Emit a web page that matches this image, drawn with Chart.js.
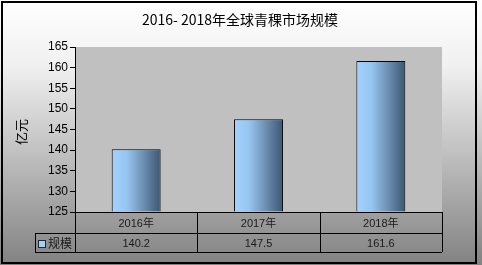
<!DOCTYPE html>
<html>
<head>
<meta charset="utf-8">
<script src="https://cdn.jsdelivr.net/npm/chart.js@4/dist/chart.umd.min.js"></script>
<style>
  html, body { margin: 0; padding: 0; background: #fff; }
  #wrap { width: 482px; height: 265px; }
</style>
</head>
<body>
<div id="wrap"><canvas id="marketChart"></canvas></div>
<script>
// data
const categories = ["2016年", "2017年", "2018年"];
const seriesName = "规模";
const values = [140.2, 147.5, 161.6];
const yMin = 125;
const yMax = 165;
const yStep = 5;
const chartTitle = "2016- 2018年全球青稞市场规模";
const yTitle = "亿元";

const cjkFont = '"Noto Sans CJK SC", "Liberation Sans", sans-serif';
const tableFont = '"Liberation Sans", "Noto Sans CJK SC", sans-serif';

// background, frame, title, y title and data table
const decorPlugin = {
    id: "decor",
    beforeDraw(chart) {
        const ctx = chart.ctx;
        const a = chart.chartArea;
        const W = chart.width, H = chart.height;
        ctx.save();
        const bg = ctx.createLinearGradient(0, 0, 0, H);
        bg.addColorStop(0, "#ffffff");
        bg.addColorStop(0.25, "#f0f0f0");
        bg.addColorStop(1, "#828282");
        ctx.fillStyle = bg;
        ctx.fillRect(0, 0, W, H);
        ctx.fillStyle = "#c0c0c0";
        ctx.fillRect(a.left, a.top, a.right - a.left, a.bottom - a.top);
        ctx.restore();
    },
    afterDraw(chart) {
        const ctx = chart.ctx;
        const a = chart.chartArea;
        const xs = chart.scales.x;
        const n = categories.length;
        const cw = (a.right - a.left) / n;
        const row1 = a.bottom, row2 = a.bottom + 21, row3 = a.bottom + 40;
        const legendLeft = 35;
        ctx.save();

        // title
        ctx.fillStyle = "#000";
        ctx.font = "14px " + cjkFont;
        ctx.textAlign = "center";
        ctx.textBaseline = "middle";
        ctx.fillText(chartTitle, 240, 20);

        // y axis title
        ctx.save();
        ctx.translate(21, 132);
        ctx.rotate(-Math.PI / 2);
        ctx.font = "13px " + cjkFont;
        ctx.fillText(yTitle, 0, 0);
        ctx.restore();

        // table lines
        ctx.strokeStyle = "#000";
        ctx.lineWidth = 1;
        ctx.beginPath();
        ctx.moveTo(a.left, row1 + 0.5); ctx.lineTo(a.right, row1 + 0.5);
        ctx.moveTo(legendLeft, row2 + 0.5); ctx.lineTo(a.right, row2 + 0.5);
        ctx.moveTo(legendLeft, row3 + 0.5); ctx.lineTo(a.right, row3 + 0.5);
        ctx.moveTo(legendLeft + 0.5, row2); ctx.lineTo(legendLeft + 0.5, row3);
        for (let i = 0; i <= n; i++) {
            const x = Math.round(a.left + cw * i) + 0.5;
            ctx.moveTo(x, row1); ctx.lineTo(x, row3);
        }
        ctx.stroke();

        // table text
        ctx.font = "11px " + tableFont;
        ctx.fillStyle = "#1a1a1a";
        categories.forEach((c, i) => {
            const x = xs.getPixelForValue(i);
            ctx.fillText(c, x, (row1 + row2) / 2 + 1);
            ctx.fillText(values[i].toFixed(1), x, (row2 + row3) / 2 + 1);
        });

        // legend key
        ctx.fillStyle = "#a6cff5";
        ctx.fillRect(38, row2 + 7, 7, 7);
        ctx.strokeStyle = "#1a2a3a";
        ctx.strokeRect(38.5, row2 + 7.5, 7, 7);
        ctx.fillStyle = "#1a1a1a";
        ctx.textAlign = "left";
        ctx.font = "12px " + cjkFont;
        ctx.fillText(seriesName, 48, (row2 + row3) / 2 + 1);

        // outer frame
        ctx.strokeStyle = "#000";
        ctx.lineWidth = 2;
        ctx.strokeRect(2, 2, 474, 261);
        ctx.restore();
    }
};

function barGradient(c) {
    const chart = c.chart;
    const a = chart.chartArea;
    if (!a) return "#9fcbf5";
    const xs = chart.scales.x;
    const cx = xs.getPixelForValue(c.dataIndex);
    const w = (a.right - a.left) / categories.length * 0.4;
    const g = chart.ctx.createLinearGradient(cx - w / 2, 0, cx + w / 2, 0);
    g.addColorStop(0, "#a4d2ff");
    g.addColorStop(0.3, "#98c6f2");
    g.addColorStop(0.55, "#7a9fc4");
    g.addColorStop(1, "#3b5672");
    return g;
}

new Chart(document.getElementById("marketChart").getContext("2d"), {
    type: "bar",
    data: {
        labels: categories,
        datasets: [
            {
                label: seriesName,
                data: values,
                base: yMin,
                backgroundColor: barGradient,
                borderColor: "#000",
                borderWidth: 1,
                barPercentage: 0.4,
                categoryPercentage: 1.0,
            },
        ],
    },
    options: {
        responsive: true,
        maintainAspectRatio: false,
        animation: false,
        layout: {
            padding: { left: 0, right: 40, top: 47, bottom: 53 },
        },
        plugins: {
            legend: { display: false },
            tooltip: { enabled: false },
        },
        scales: {
            x: {
                display: false,
            },
            y: {
                min: yMin,
                max: yMax,
                afterFit(scale) { scale.width = 75; },
                ticks: {
                    stepSize: yStep,
                    color: "#000",
                    padding: 2,
                    font: { family: '"Liberation Sans", Arial, sans-serif', size: 12 },
                },
                grid: {
                    drawOnChartArea: false,
                    tickLength: 5,
                    color: "#000",
                },
                border: { color: "#000", width: 1 },
            },
        },
    },
    plugins: [decorPlugin],
});
</script>
</body>
</html>
